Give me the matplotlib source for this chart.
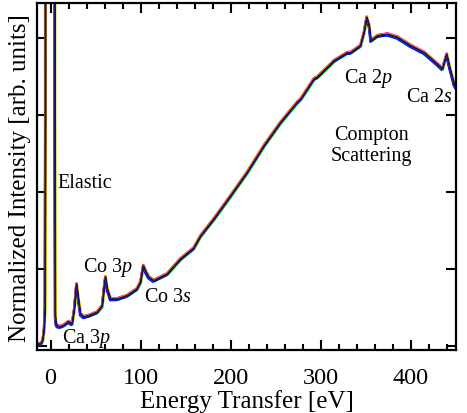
import matplotlib
matplotlib.use("Agg")
import matplotlib.pyplot as plt
from matplotlib.ticker import MultipleLocator, NullFormatter
import numpy as np

plt.rcParams['font.family'] = ['Liberation Serif', 'DejaVu Serif']
plt.rcParams['mathtext.fontset'] = 'custom'
plt.rcParams['mathtext.rm'] = 'Liberation Serif'
plt.rcParams['mathtext.it'] = 'Liberation Serif:italic'

# Energy transfer (eV) and normalized intensity
energy = [-15, -12, -10, -8.5, -7, -6, -5.6, -5.3, -0.5, 4.5, 4.8, 5.3, 6.0, 7.4,
          11, 15, 20, 24, 26.5, 28.9, 31, 33.3, 37, 44, 52, 57.4, 60, 61, 63,
          66.7, 74, 85, 96, 100, 103, 106, 109, 114.5, 129.6, 144.4, 159,
          166.7, 181.5, 200, 218.5, 237, 255.6, 274, 278, 292.6, 296, 311,
          314.8, 329.6, 333, 344, 348, 351, 353.7, 355.6, 363, 374, 385, 400,
          414.8, 429.6, 435, 439.7, 442.6, 448, 450]
intensity = [0.026, 0.026, 0.04, 0.08, 0.22, 0.5, 3.0, 30.0, 100.0, 30.0, 3.0, 0.4, 0.3, 0.26,
             0.25, 0.27, 0.316, 0.286, 0.48, 0.805, 0.61, 0.416, 0.377, 0.40, 0.44, 0.52, 0.805, 0.896, 0.74,
             0.61, 0.61, 0.653, 0.74, 0.83, 1.043, 0.96, 0.896, 0.848, 0.935, 1.13, 1.27,
             1.43, 1.65, 1.95, 2.256, 2.60, 2.905, 3.165, 3.21, 3.47, 3.49, 3.66,
             3.705, 3.81, 3.81, 3.90, 4.07, 4.27, 4.16, 3.965, 4.03, 4.05, 4.01, 3.90,
             3.81, 3.66, 3.60, 3.79, 3.64, 3.40, 3.36]

# individual overlaid scans: colour, small intensity offset and energy shift of each scan
scan_colors = ['#ff0000', '#00c000', '#ff00ff', '#00e0e0', '#e0e000', '#0000ff',
               '#800000', '#008000', '#ff8000', '#000000', '#0000a0']
scan_offsets = [0.015, -0.015, 0.02, -0.01, 0.01, -0.02, 0.005, -0.005, 0.012, 0.0, -0.003]
scan_shifts = [-0.8, 0.8, 0.5, -0.5, 1.0, -1.0, 0.3, -0.3, -0.6, 0.0, 0.2]

annotations = [
    ("Elastic", 7.8, 2.13, 'left'),
    ("Co 3$p$", 64, 1.03, 'center'),
    ("Co 3$s$", 130.5, 0.65, 'center'),
    ("Ca 3$p$", 40, 0.117, 'center'),
    ("Ca 2$p$", 353, 3.49, 'center'),
    ("Ca 2$s$", 420, 3.24, 'center'),
    ("Compton\nScattering", 356, 2.61, 'center'),
]

fig = plt.figure(figsize=(4.67, 4.14), dpi=100)
ax = fig.add_axes([0.0792, 0.152, 0.8972, 0.838])

e = np.array(energy)
inten = np.array(intensity)
for c, off, sh in zip(scan_colors, scan_offsets, scan_shifts):
    ax.plot(e + sh, inten + off, color=c, lw=0.9)
ax.plot(e, inten, color='#1a1a70', lw=1.0, alpha=0.85)

for txt, x, y, ha in annotations:
    ax.text(x, y, txt, ha=ha, va='center', fontsize=14.5, linespacing=1.1)

ax.set_xlim(-15, 450)
ax.set_ylim(-0.052, 4.455)
ax.xaxis.set_major_locator(MultipleLocator(100))
ax.xaxis.set_minor_locator(MultipleLocator(20))
ax.yaxis.set_major_locator(MultipleLocator(1))
ax.yaxis.set_major_formatter(NullFormatter())
ax.tick_params(which='both', direction='in', top=True, right=True, width=1.5)
ax.tick_params(which='major', length=7, labelsize=17.5)
ax.tick_params(axis='x', which='major', pad=12)
ax.tick_params(axis='y', which='major', pad=2)
ax.tick_params(which='minor', length=4)
for s in ax.spines.values():
    s.set_linewidth(1.6)

ax.set_xlabel("Energy Transfer [eV]", fontsize=18, labelpad=1)
ax.set_ylabel("Normalized Intensity [arb. units]", fontsize=18, labelpad=2)

fig.savefig("out.png", dpi=100)
